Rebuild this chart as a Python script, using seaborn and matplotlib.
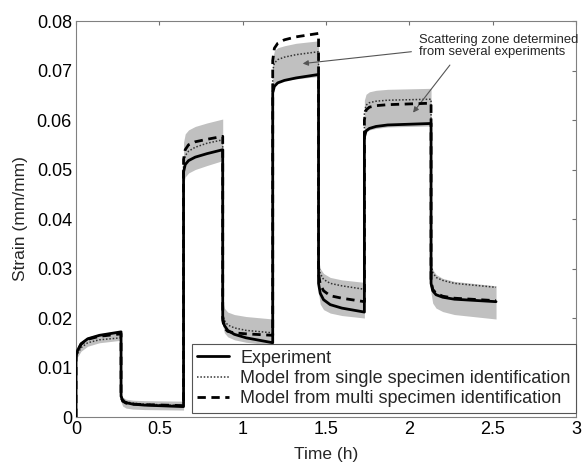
import matplotlib
matplotlib.use("Agg")
import matplotlib.pyplot as plt
import seaborn as sns
import pandas as pd

# ---- data ----
time_h = [0.0,
          0.0, 0.01, 0.03, 0.07, 0.14, 0.27,
          0.27, 0.28, 0.30, 0.34, 0.41, 0.645,
          0.645, 0.655, 0.675, 0.715, 0.785, 0.88,
          0.88, 0.89, 0.91, 0.95, 1.02, 1.18,
          1.18, 1.19, 1.21, 1.25, 1.32, 1.455,
          1.455, 1.465, 1.485, 1.525, 1.595, 1.73,
          1.73, 1.74, 1.76, 1.80, 1.87, 2.13,
          2.13, 2.14, 2.16, 2.20, 2.27, 2.52]

experiment = [0.0,
              0.0125, 0.0135, 0.0148, 0.0158, 0.0165, 0.0172,
              0.0042, 0.0033, 0.0029, 0.0026, 0.0024, 0.0021,
              0.0495, 0.0510, 0.0518, 0.0525, 0.0532, 0.0540,
              0.0200, 0.0185, 0.0175, 0.0167, 0.0160, 0.0150,
              0.0655, 0.0668, 0.0675, 0.0680, 0.0685, 0.0692,
              0.0270, 0.0250, 0.0237, 0.0227, 0.0220, 0.0212,
              0.0565, 0.0578, 0.0583, 0.0587, 0.0590, 0.0593,
              0.0270, 0.0255, 0.0247, 0.0242, 0.0238, 0.0233]

single_model = [0.0,
                0.0120, 0.0128, 0.0140, 0.0150, 0.0156, 0.0160,
                0.0045, 0.0036, 0.0031, 0.0028, 0.0026, 0.0023,
                0.0510, 0.0528, 0.0537, 0.0545, 0.0553, 0.0560,
                0.0210, 0.0195, 0.0186, 0.0180, 0.0175, 0.0170,
                0.0700, 0.0715, 0.0722, 0.0727, 0.0732, 0.0738,
                0.0310, 0.0290, 0.0278, 0.0270, 0.0265, 0.0258,
                0.0615, 0.0630, 0.0635, 0.0638, 0.0640, 0.0642,
                0.0310, 0.0292, 0.0282, 0.0276, 0.0270, 0.0262]

multi_model = [0.0,
               0.0125, 0.0134, 0.0147, 0.0157, 0.0163, 0.0168,
               0.0040, 0.0032, 0.0028, 0.0026, 0.0025, 0.0023,
               0.0520, 0.0540, 0.0550, 0.0556, 0.0561, 0.0567,
               0.0195, 0.0180, 0.0173, 0.0170, 0.0168, 0.0165,
               0.0720, 0.0745, 0.0755, 0.0762, 0.0768, 0.0775,
               0.0290, 0.0268, 0.0255, 0.0245, 0.0240, 0.0233,
               0.0600, 0.0620, 0.0626, 0.0629, 0.0631, 0.0634,
               0.0275, 0.0258, 0.0250, 0.0244, 0.0240, 0.0235]

band_low = [0.0,
            0.0115, 0.0122, 0.0133, 0.0143, 0.0150, 0.0155,
            0.0030, 0.0022, 0.0018, 0.0016, 0.0015, 0.0014,
            0.0470, 0.0485, 0.0493, 0.0500, 0.0508, 0.0518,
            0.0185, 0.0170, 0.0162, 0.0156, 0.0151, 0.0145,
            0.0660, 0.0670, 0.0676, 0.0680, 0.0683, 0.0688,
            0.0250, 0.0228, 0.0217, 0.0210, 0.0205, 0.0200,
            0.0565, 0.0575, 0.0580, 0.0583, 0.0586, 0.0588,
            0.0250, 0.0230, 0.0220, 0.0213, 0.0207, 0.0198]

band_high = [0.0,
             0.0130, 0.0140, 0.0152, 0.0162, 0.0168, 0.0175,
             0.0050, 0.0040, 0.0036, 0.0034, 0.0033, 0.0032,
             0.0555, 0.0572, 0.0580, 0.0587, 0.0594, 0.0602,
             0.0235, 0.0220, 0.0212, 0.0207, 0.0203, 0.0198,
             0.0725, 0.0740, 0.0746, 0.0750, 0.0755, 0.0760,
             0.0320, 0.0300, 0.0290, 0.0282, 0.0277, 0.0272,
             0.0640, 0.0652, 0.0657, 0.0660, 0.0662, 0.0664,
             0.0315, 0.0298, 0.0288, 0.0280, 0.0274, 0.0265]

x_ticks = [0, 0.5, 1, 1.5, 2, 2.5, 3]
x_tick_labels = ["0", "0.5", "1", "1.5", "2", "2.5", "3"]
y_ticks = [0, 0.01, 0.02, 0.03, 0.04, 0.05, 0.06, 0.07, 0.08]
y_tick_labels = ["0", "0.01", "0.02", "0.03", "0.04", "0.05", "0.06", "0.07", "0.08"]

labels = ["Experiment",
          "Model from single specimen identification",
          "Model from multi specimen identification"]

# ---- style ----
sns.set_style("white")
plt.rcParams["font.family"] = ["Liberation Sans", "DejaVu Sans"]

df = pd.DataFrame({"t": time_h, "exp": experiment, "single": single_model,
                   "multi": multi_model, "lo": band_low, "hi": band_high})

fig = plt.figure(figsize=(5.85, 4.62), dpi=100)
ax = fig.add_axes([0.130, 0.0974, 0.8547, 0.8571])

ax.fill_between(df["t"], df["lo"], df["hi"], color="#c0c0c0", lw=0, zorder=1)

sns.lineplot(data=df, x="t", y="exp", ax=ax, estimator=None, sort=False,
             color="black", lw=2.0, label=labels[0], zorder=4)
sns.lineplot(data=df, x="t", y="single", ax=ax, estimator=None, sort=False,
             color="#333333", lw=1.1, linestyle=(0, (1, 1.2)), label=labels[1], zorder=3)
sns.lineplot(data=df, x="t", y="multi", ax=ax, estimator=None, sort=False,
             color="black", lw=2.0, linestyle=(0, (3, 2)), label=labels[2], zorder=5)

ax.set_xlim(0, 3)
ax.set_ylim(0, 0.08)
ax.set_xticks(x_ticks)
ax.set_xticklabels(x_tick_labels)
ax.set_yticks(y_ticks)
ax.set_yticklabels(y_tick_labels)
ax.tick_params(direction="in", length=3, width=0.8, top=True, right=True,
               labelsize=13, color="#707070", labelcolor="black", pad=3)
for s in ax.spines.values():
    s.set_visible(True)
    s.set_color("#808080")
    s.set_linewidth(0.8)

ax.set_xlabel("Time (h)", fontsize=12.5, labelpad=6)
ax.set_ylabel("Strain (mm/mm)", fontsize=12.5, labelpad=6)

leg = ax.legend(loc="lower right", bbox_to_anchor=(1.0, 0.011), borderaxespad=0,
                fontsize=13, frameon=True, fancybox=False, edgecolor="#555555",
                framealpha=1, handlelength=1.75, handletextpad=0.65,
                labelspacing=0.18, borderpad=0.3)
leg.get_frame().set_linewidth(0.8)

ax.text(2.06, 0.0749, "Scattering zone determined\nfrom several experiments",
        ha="left", va="center", fontsize=9.4, linespacing=1.05)
arrow = dict(arrowstyle="-|>", color="#555555", lw=0.8, mutation_scale=8,
             shrinkA=0, shrinkB=0)
ax.annotate("", xy=(1.36, 0.0714), xytext=(2.012, 0.0738), arrowprops=arrow)
ax.annotate("", xy=(2.022, 0.0615), xytext=(2.243, 0.0711), arrowprops=arrow)

fig.savefig("out.png", dpi=100)
